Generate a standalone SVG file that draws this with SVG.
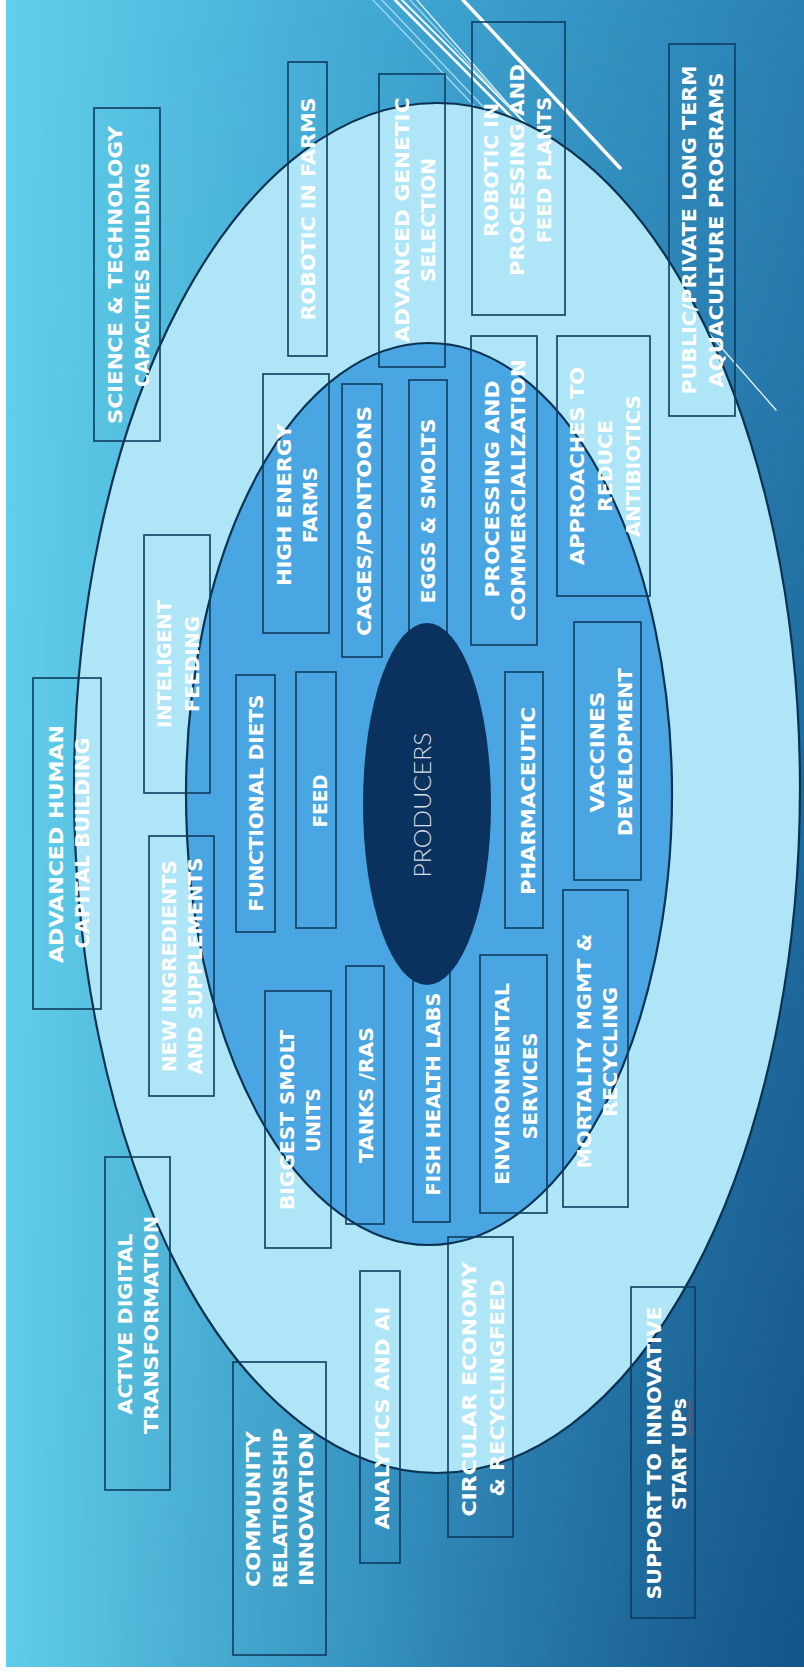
<svg xmlns="http://www.w3.org/2000/svg" width="804" height="1674" viewBox="0 0 804 1674">
<defs>
<linearGradient id="bg" x1="6" y1="0" x2="804" y2="0" gradientUnits="userSpaceOnUse">
<stop offset="0" stop-color="#62cfea"/>
<stop offset="0.5" stop-color="#3fa5d2"/>
<stop offset="1" stop-color="#2a80b4"/>
</linearGradient>
<linearGradient id="dark" x1="0" y1="0" x2="0" y2="1674" gradientUnits="userSpaceOnUse">
<stop offset="0" stop-color="#0a3f72" stop-opacity="0"/>
<stop offset="1" stop-color="#0a3f72" stop-opacity="0.68"/>
</linearGradient>
<linearGradient id="mg" x1="0" y1="0" x2="804" y2="0" gradientUnits="userSpaceOnUse">
<stop offset="0" stop-color="#000"/>
<stop offset="0.45" stop-color="#4d4d4d"/>
<stop offset="1" stop-color="#fff"/>
</linearGradient>
<mask id="m" maskUnits="userSpaceOnUse" x="0" y="0" width="804" height="1674">
<rect x="0" y="0" width="804" height="1674" fill="url(#mg)"/>
</mask>
<style>
.box{fill:none;stroke:#0f3b5f;stroke-width:1.6}
.t{font-family:"DejaVu Sans","Liberation Sans",sans-serif;font-weight:bold;font-size:20px;fill:#ffffff;text-anchor:middle}
.ring{stroke:#0b3252;stroke-width:2.2}
</style>
</defs>
<rect x="0" y="0" width="804" height="1674" fill="#ffffff"/>
<rect x="6" y="0" width="798" height="1667" fill="url(#bg)"/>
<rect x="6" y="0" width="798" height="1667" fill="url(#dark)" mask="url(#m)"/>
<g id="decor" fill="none" stroke-linecap="round">
<line x1="373" y1="0" x2="482" y2="114" stroke="#a8dcf2" stroke-width="1.2"/>
<line x1="382" y1="0" x2="492" y2="116" stroke="#a8dcf2" stroke-width="1.2"/>
<line x1="395" y1="0" x2="520" y2="126" stroke="#ffffff" stroke-width="2.6"/>
<line x1="402" y1="0" x2="530" y2="128" stroke="#ffffff" stroke-width="1.8"/>
<line x1="410" y1="0" x2="516" y2="114" stroke="#a8dcf2" stroke-width="1.2"/>
<line x1="417" y1="0" x2="776" y2="410" stroke="#e6f6fc" stroke-width="1.3"/>
<line x1="463" y1="0" x2="620" y2="168" stroke="#ffffff" stroke-width="3.5"/>
</g>
<g id="outer-ring"><ellipse class="ring" cx="437" cy="788" rx="363" ry="685" fill="#aee6f7"/></g>
<g id="middle-ring"><ellipse class="ring" cx="429" cy="794" rx="243" ry="451" fill="#4aa6e2"/></g>

<g id="n-science"><rect class="box" x="94" y="108" width="66" height="333"/>
<text class="t" transform="translate(122,275) rotate(-90)" textLength="298" lengthAdjust="spacingAndGlyphs">SCIENCE &amp; TECHNOLOGY</text>
<text class="t" transform="translate(149,275) rotate(-90)" textLength="224" lengthAdjust="spacingAndGlyphs">CAPACITIES BUILDING</text></g>

<g id="n-robotic-farms"><rect class="box" x="288" y="62" width="39" height="294"/>
<text class="t" transform="translate(315,209) rotate(-90)" textLength="223" lengthAdjust="spacingAndGlyphs">ROBOTIC IN FARMS</text></g>

<g id="n-genetic"><rect class="box" x="379" y="74" width="66" height="293"/>
<text class="t" transform="translate(409,220) rotate(-90)" textLength="245" lengthAdjust="spacingAndGlyphs">ADVANCED GENETIC</text>
<text class="t" transform="translate(435,220) rotate(-90)" textLength="124" lengthAdjust="spacingAndGlyphs">SELECTION</text></g>

<g id="n-robotic-processing"><rect class="box" x="472" y="22" width="93" height="293"/>
<text class="t" transform="translate(498,170) rotate(-90)" textLength="134" lengthAdjust="spacingAndGlyphs">ROBOTIC IN</text>
<text class="t" transform="translate(524,170) rotate(-90)" textLength="212" lengthAdjust="spacingAndGlyphs">PROCESSING AND</text>
<text class="t" transform="translate(551,170) rotate(-90)" textLength="146" lengthAdjust="spacingAndGlyphs">FEED PLANTS</text></g>

<g id="n-public"><rect class="box" x="669" y="44" width="66" height="372"/>
<text class="t" transform="translate(696,230) rotate(-90)" textLength="329" lengthAdjust="spacingAndGlyphs">PUBLIC/PRIVATE LONG TERM</text>
<text class="t" transform="translate(723,230) rotate(-90)" textLength="315" lengthAdjust="spacingAndGlyphs">AQUACULTURE PROGRAMS</text></g>

<g id="n-high-energy"><rect class="box" x="263" y="374" width="66" height="259"/>
<text class="t" transform="translate(291,505) rotate(-90)" textLength="162" lengthAdjust="spacingAndGlyphs">HIGH ENERGY</text>
<text class="t" transform="translate(317,505) rotate(-90)" textLength="76" lengthAdjust="spacingAndGlyphs">FARMS</text></g>

<g id="n-cages"><rect class="box" x="342" y="384" width="40" height="273"/>
<text class="t" transform="translate(371,521) rotate(-90)" textLength="230" lengthAdjust="spacingAndGlyphs">CAGES/PONTOONS</text></g>

<g id="n-eggs"><rect class="box" x="409" y="380" width="38" height="262"/>
<text class="t" transform="translate(435,511) rotate(-90)" textLength="185" lengthAdjust="spacingAndGlyphs">EGGS &amp; SMOLTS</text></g>

<g id="n-processing"><rect class="box" x="471" y="336" width="66" height="309"/>
<text class="t" transform="translate(499,489) rotate(-90)" textLength="217" lengthAdjust="spacingAndGlyphs">PROCESSING AND</text>
<text class="t" transform="translate(525,490) rotate(-90)" textLength="262" lengthAdjust="spacingAndGlyphs">COMMERCIALIZATION</text></g>

<g id="n-approaches"><rect class="box" x="557" y="336" width="93" height="260"/>
<text class="t" transform="translate(584,466) rotate(-90)" textLength="198" lengthAdjust="spacingAndGlyphs">APPROACHES TO</text>
<text class="t" transform="translate(612,466) rotate(-90)" textLength="92" lengthAdjust="spacingAndGlyphs">REDUCE</text>
<text class="t" transform="translate(640,466) rotate(-90)" textLength="142" lengthAdjust="spacingAndGlyphs">ANTIBIOTICS</text></g>

<g id="n-vaccines"><rect class="box" x="574" y="622" width="67" height="258"/>
<text class="t" transform="translate(604,752) rotate(-90)" textLength="121" lengthAdjust="spacingAndGlyphs">VACCINES</text>
<text class="t" transform="translate(632,752) rotate(-90)" textLength="168" lengthAdjust="spacingAndGlyphs">DEVELOPMENT</text></g>

<g id="n-pharma"><rect class="box" x="505" y="672" width="38" height="256"/>
<text class="t" transform="translate(535,801) rotate(-90)" textLength="188" lengthAdjust="spacingAndGlyphs">PHARMACEUTIC</text></g>

<g id="n-feed"><rect class="box" x="296" y="672" width="40" height="256"/>
<text class="t" transform="translate(327,801) rotate(-90)" textLength="53" lengthAdjust="spacingAndGlyphs">FEED</text></g>

<g id="n-functional"><rect class="box" x="236" y="675" width="39" height="257"/>
<text class="t" transform="translate(263,803) rotate(-90)" textLength="217" lengthAdjust="spacingAndGlyphs">FUNCTIONAL DIETS</text></g>

<g id="n-inteligent"><rect class="box" x="144" y="535" width="66" height="258"/>
<text class="t" transform="translate(171,664) rotate(-90)" textLength="128" lengthAdjust="spacingAndGlyphs">INTELIGENT</text>
<text class="t" transform="translate(199,664) rotate(-90)" textLength="96" lengthAdjust="spacingAndGlyphs">FEEDING</text></g>

<g id="n-human"><rect class="box" x="33" y="678" width="68" height="331"/>
<text class="t" transform="translate(63,844) rotate(-90)" textLength="238" lengthAdjust="spacingAndGlyphs">ADVANCED HUMAN</text>
<text class="t" transform="translate(89,843) rotate(-90)" textLength="211" lengthAdjust="spacingAndGlyphs">CAPITAL BUILDING</text></g>

<g id="n-ingredients"><rect class="box" x="149" y="836" width="65" height="260"/>
<text class="t" transform="translate(176,966) rotate(-90)" textLength="212" lengthAdjust="spacingAndGlyphs">NEW INGREDIENTS</text>
<text class="t" transform="translate(202,966) rotate(-90)" textLength="217" lengthAdjust="spacingAndGlyphs">AND SUPPLEMENTS</text></g>

<g id="n-biggest"><rect class="box" x="265" y="991" width="66" height="257"/>
<text class="t" transform="translate(294,1120) rotate(-90)" textLength="180" lengthAdjust="spacingAndGlyphs">BIGGEST SMOLT</text>
<text class="t" transform="translate(320,1120) rotate(-90)" textLength="64" lengthAdjust="spacingAndGlyphs">UNITS</text></g>

<g id="n-tanks"><rect class="box" x="346" y="966" width="38" height="258"/>
<text class="t" transform="translate(373,1095) rotate(-90)" textLength="136" lengthAdjust="spacingAndGlyphs">TANKS /RAS</text></g>

<g id="n-fish"><rect class="box" x="413" y="964" width="37" height="258"/>
<text class="t" transform="translate(440,1094) rotate(-90)" textLength="203" lengthAdjust="spacingAndGlyphs">FISH HEALTH LABS</text></g>

<g id="n-environmental"><rect class="box" x="480" y="955" width="67" height="258"/>
<text class="t" transform="translate(509,1084) rotate(-90)" textLength="202" lengthAdjust="spacingAndGlyphs">ENVIRONMENTAL</text>
<text class="t" transform="translate(537,1086) rotate(-90)" textLength="107" lengthAdjust="spacingAndGlyphs">SERVICES</text></g>

<g id="n-mortality"><rect class="box" x="563" y="890" width="65" height="317"/>
<text class="t" transform="translate(591,1051) rotate(-90)" textLength="235" lengthAdjust="spacingAndGlyphs">MORTALITY MGMT &amp;</text>
<text class="t" transform="translate(617,1052) rotate(-90)" textLength="130" lengthAdjust="spacingAndGlyphs">RECYCLING</text></g>

<g id="n-digital"><rect class="box" x="105" y="1157" width="65" height="333"/>
<text class="t" transform="translate(132,1324) rotate(-90)" textLength="181" lengthAdjust="spacingAndGlyphs">ACTIVE DIGITAL</text>
<text class="t" transform="translate(158,1325) rotate(-90)" textLength="218" lengthAdjust="spacingAndGlyphs">TRANSFORMATION</text></g>

<g id="n-community"><rect class="box" x="233" y="1362" width="93" height="293"/>
<text class="t" transform="translate(260,1509) rotate(-90)" textLength="156" lengthAdjust="spacingAndGlyphs">COMMUNITY</text>
<text class="t" transform="translate(287,1508) rotate(-90)" textLength="160" lengthAdjust="spacingAndGlyphs">RELATIONSHIP</text>
<text class="t" transform="translate(313,1509) rotate(-90)" textLength="154" lengthAdjust="spacingAndGlyphs">INNOVATION</text></g>

<g id="n-analytics"><rect class="box" x="360" y="1271" width="40" height="292"/>
<text class="t" transform="translate(389,1418) rotate(-90)" textLength="223" lengthAdjust="spacingAndGlyphs">ANALYTICS AND AI</text></g>

<g id="n-circular"><rect class="box" x="448" y="1237" width="65" height="300"/>
<text class="t" transform="translate(476,1389) rotate(-90)" textLength="255" lengthAdjust="spacingAndGlyphs">CIRCULAR ECONOMY</text>
<text class="t" transform="translate(504,1388) rotate(-90)" textLength="217" lengthAdjust="spacingAndGlyphs">&amp; RECYCLINGFEED</text></g>

<g id="n-startups"><rect class="box" x="631" y="1287" width="64" height="331"/>
<text class="t" transform="translate(661,1453) rotate(-90)" textLength="293" lengthAdjust="spacingAndGlyphs">SUPPORT TO INNOVATIVE</text>
<text class="t" transform="translate(686,1454) rotate(-90)" textLength="112" lengthAdjust="spacingAndGlyphs">START UPs</text>
<path d="M689,1437 l2,-2.5 l-2,-2.5 l2,-2.5 l-2,-2.5 l2,-2.5 l-2,-2.5 l2,-2.5 l-2,-2.5 l2,-2.5 l-2,-2.5 l2,-2.5 l-2,-2.5 l2,-2.5 l-2,-2.5 l2,-2.5" fill="none" stroke="#e03a3a" stroke-width="1"/></g>

<g id="n-producers"><ellipse cx="427" cy="804" rx="64" ry="181" fill="#0b315e"/>
<text transform="translate(431,805) rotate(-90)" text-anchor="middle" font-family="Lato,'Noto Sans','DejaVu Sans',sans-serif" font-weight="300" font-size="23" fill="#d9dfe8" textLength="145" lengthAdjust="spacingAndGlyphs">PRODUCERS</text></g>
</svg>
